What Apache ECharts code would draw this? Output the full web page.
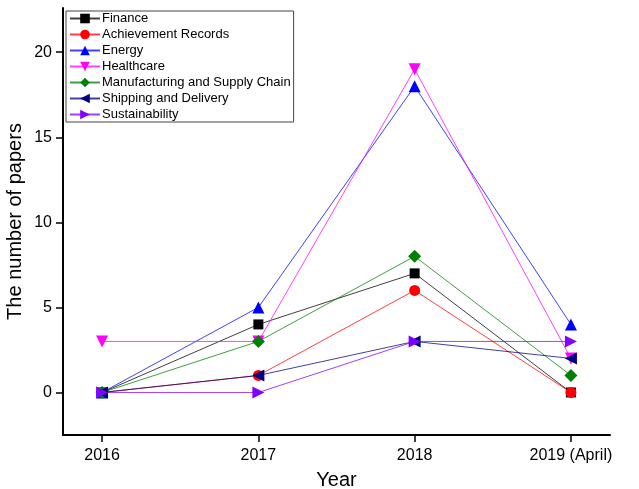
<!DOCTYPE html>
<html>
<head>
<meta charset="utf-8">
<script src="https://cdn.jsdelivr.net/npm/echarts@6/dist/echarts.min.js"></script>
<style>
  html, body { margin: 0; padding: 0; background: #fff; }
  #chart { width: 639px; height: 489px; }
</style>
</head>
<body>
<div id="chart"></div>
<script>
// Year labels along the x axis
const years = ['2016', '2017', '2018', '2019 (April)'];

// Papers per year for each application field
const finance        = [0, 4, 7, 0];
const achievement    = [0, 1, 6, 0];
const energy         = [0, 5, 18, 4];
const healthcare     = [3, 3, 19, 2];
const manufacturing  = [0, 3, 8, 1];
const shipping       = [0, 1, 3, 2];
const sustainability = [0, 0, 3, 3];

const yTicks = [0, 5, 10, 15, 20];

const FONT = 'Liberation Sans, Arial, sans-serif';

function mk(name, values, color, symbol, size, rotate) {
  return {
    name: name,
    type: 'line',
    data: values.map((v, i) => [i, v]),
    symbol: symbol,
    symbolSize: size,
    symbolRotate: rotate || 0,
    itemStyle: { color: color },
    lineStyle: { color: color, width: 1, opacity: 0.75 },
    emphasis: { disabled: true },
    animation: false
  };
}

const chart = echarts.init(document.getElementById('chart'), null, { renderer: 'canvas' });

chart.setOption({
  backgroundColor: '#fff',
  animation: false,
  grid: { left: 63, right: 29, top: 8, bottom: 54, outerBoundsMode: 'none', containLabel: false },
  legend: {
    orient: 'vertical',
    left: 66,
    top: 11,
    itemWidth: 30,
    itemHeight: 12,
    itemGap: 3,
    padding: [1, 3, 1, 3],
    borderColor: '#444',
    borderWidth: 1,
    textStyle: { fontFamily: FONT, fontSize: 13, color: '#000', padding: [0, 0, 0, -3] },
    data: ['Finance', 'Achievement Records', 'Energy', 'Healthcare',
           'Manufacturing and Supply Chain', 'Shipping and Delivery', 'Sustainability']
  },
  xAxis: {
    type: 'value',
    min: -0.25,
    max: 3.25,
    name: 'Year',
    nameLocation: 'middle',
    nameGap: 35,
    nameMoveOverlap: false,
    nameTextStyle: { fontFamily: FONT, fontSize: 20, color: '#000' },
    splitLine: { show: false },
    axisLine: { onZero: false, lineStyle: { color: '#000', width: 2 } },
    axisTick: { customValues: [0, 1, 2, 3], length: 7, lineStyle: { color: '#000', width: 1.5 } },
    axisLabel: {
      customValues: [0, 1, 2, 3],
      formatter: v => years[Math.round(v)],
      fontFamily: FONT, fontSize: 16, color: '#000', margin: 13
    }
  },
  yAxis: {
    type: 'value',
    min: -2.5,
    max: 22.6,
    name: 'The number of papers',
    nameLocation: 'middle',
    nameGap: 38,
    nameMoveOverlap: false,
    nameTextStyle: { fontFamily: FONT, fontSize: 20, color: '#000' },
    splitLine: { show: false },
    axisLine: { show: true, onZero: false, lineStyle: { color: '#000', width: 2 } },
    axisTick: { show: true, customValues: yTicks, length: 7, lineStyle: { color: '#000', width: 1.5 } },
    axisLabel: {
      customValues: yTicks,
      fontFamily: FONT, fontSize: 16, color: '#000', margin: 11
    }
  },
  series: [
    mk('Finance', finance, '#000000', 'rect', 10),
    mk('Achievement Records', achievement, '#ff0000', 'circle', 11),
    mk('Energy', energy, '#0000ff', 'triangle', 12),
    mk('Healthcare', healthcare, '#ff00ff', 'triangle', 12, 180),
    mk('Manufacturing and Supply Chain', manufacturing, '#008000', 'diamond', 13),
    mk('Shipping and Delivery', shipping, '#000080', 'triangle', 12, 90),
    mk('Sustainability', sustainability, '#8000ff', 'triangle', 12, -90)
  ]
});
</script>
</body>
</html>
